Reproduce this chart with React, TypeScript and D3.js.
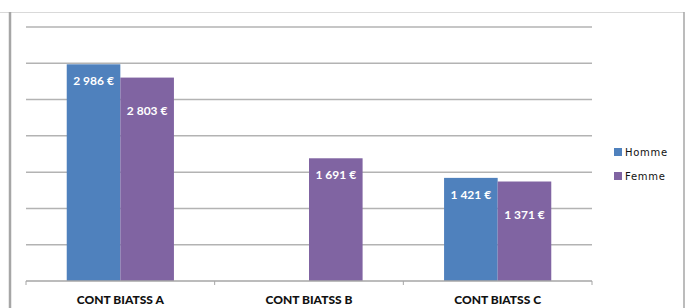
import React, { useEffect, useRef } from 'react';
import * as d3 from 'd3';

const categories = ['CONT BIATSS A', 'CONT BIATSS B', 'CONT BIATSS C'];
const series = ['Homme', 'Femme'];
const hommeValues: (number | null)[] = [2986, null, 1421];
const femmeValues: (number | null)[] = [2803, 1691, 1371];
const yTicks = [0, 500, 1000, 1500, 2000, 2500, 3000, 3500];
const colors = ['#4f81bd', '#8064a2'];

const fmt = (v: number) => d3.format(',')(v).replace(',', ' ') + ' €';

const App = () => {
  const svgRef = useRef<SVGSVGElement>(null);

  useEffect(() => {
    const width = 687;
    const height = 308;
    const svg = d3.select(svgRef.current).attr('width', width).attr('height', height);
    svg.selectAll('*').remove();

    // frame
    svg.append('rect').attr('x', 0).attr('y', 0).attr('width', width).attr('height', height).attr('fill', '#fff');
    svg.append('line').attr('x1', 0).attr('x2', 684).attr('y1', 12.5).attr('y2', 12.5)
      .attr('stroke', '#d9d9d9').attr('stroke-width', 1);
    svg.append('line').attr('x1', 684).attr('x2', 684).attr('y1', 12).attr('y2', height)
      .attr('stroke', '#a6a6a6').attr('stroke-width', 1.5);
    svg.append('line').attr('x1', 10).attr('x2', 10).attr('y1', 12).attr('y2', height)
      .attr('stroke', '#a6a6a6').attr('stroke-width', 2.5);

    const x0 = d3.scaleBand().domain(categories).range([26, 592]).paddingInner(0).paddingOuter(0);
    const x1 = d3.scaleBand().domain(series).range([0, x0.bandwidth()]).paddingInner(0).paddingOuter(0.76);
    const y = d3.scaleLinear().domain([0, 3500]).range([281, 27]);

    // gridlines
    svg.append('g').selectAll('line').data(yTicks.slice(1)).enter().append('line')
      .attr('x1', 26).attr('x2', 592)
      .attr('y1', (d) => y(d)).attr('y2', (d) => y(d))
      .attr('stroke', '#b3b3b3').attr('stroke-width', 1.5);

    const rows = categories.map((c, i) => ({ cat: c, vals: [hommeValues[i], femmeValues[i]] }));

    const groups = svg.append('g').selectAll('g').data(rows).enter().append('g')
      .attr('transform', (d) => `translate(${x0(d.cat)},0)`);

    groups.selectAll('rect')
      .data((d) => d.vals.map((v, j) => ({ v, j })).filter((e) => e.v != null))
      .enter().append('rect')
      .attr('x', (d) => x1(series[d.j]) as number)
      .attr('width', x1.bandwidth())
      .attr('y', (d) => y(d.v as number))
      .attr('height', (d) => y(0) - y(d.v as number))
      .attr('fill', (d) => colors[d.j]);

    groups.selectAll('text')
      .data((d) => d.vals.map((v, j) => ({ v, j, sib: j === 1 && d.vals[0] != null })).filter((e) => e.v != null))
      .enter().append('text')
      .attr('x', (d) => (x1(series[d.j]) as number) + x1.bandwidth() / 2)
      .attr('y', (d) => y(d.v as number) + 21 + (d.sib ? 16 : 0))
      .attr('text-anchor', 'middle')
      .attr('fill', '#fff')
      .attr('font-family', 'Lato')
      .attr('font-weight', 'bold')
      .attr('font-size', 12)
      .text((d) => fmt(d.v as number));

    // baseline and ticks
    svg.append('line').attr('x1', 26).attr('x2', 592).attr('y1', y(0)).attr('y2', y(0))
      .attr('stroke', '#a6a6a6').attr('stroke-width', 1.5);
    const bounds = [...categories.map((c) => x0(c) as number), 592];
    svg.append('g').selectAll('line').data(bounds).enter().append('line')
      .attr('x1', (d) => d).attr('x2', (d) => d).attr('y1', y(0)).attr('y2', y(0) + 4)
      .attr('stroke', '#a6a6a6').attr('stroke-width', 1);

    svg.append('g').selectAll('text').data(categories).enter().append('text')
      .attr('x', (d) => (x0(d) as number) + x0.bandwidth() / 2)
      .attr('y', 303.5)
      .attr('text-anchor', 'middle')
      .attr('font-family', 'Lato')
      .attr('font-weight', 900)
      .attr('font-size', 12)
      .attr('fill', '#111')
      .text((d) => d);

    // legend
    const legend = svg.append('g').selectAll('g').data(series).enter().append('g')
      .attr('transform', (d, i) => `translate(614,${148 + i * 24})`);
    legend.append('rect').attr('width', 8).attr('height', 8).attr('fill', (d, i) => colors[i]);
    legend.append('text').attr('x', 11).attr('y', 8)
      .attr('font-family', 'DejaVu Sans').attr('font-size', 10).attr('letter-spacing', 0.7)
      .attr('fill', '#111').text((d) => d);
  }, []);

  return <svg ref={svgRef} style={{ position: 'absolute', left: 0, top: 0 }} />;
};

export default App;
